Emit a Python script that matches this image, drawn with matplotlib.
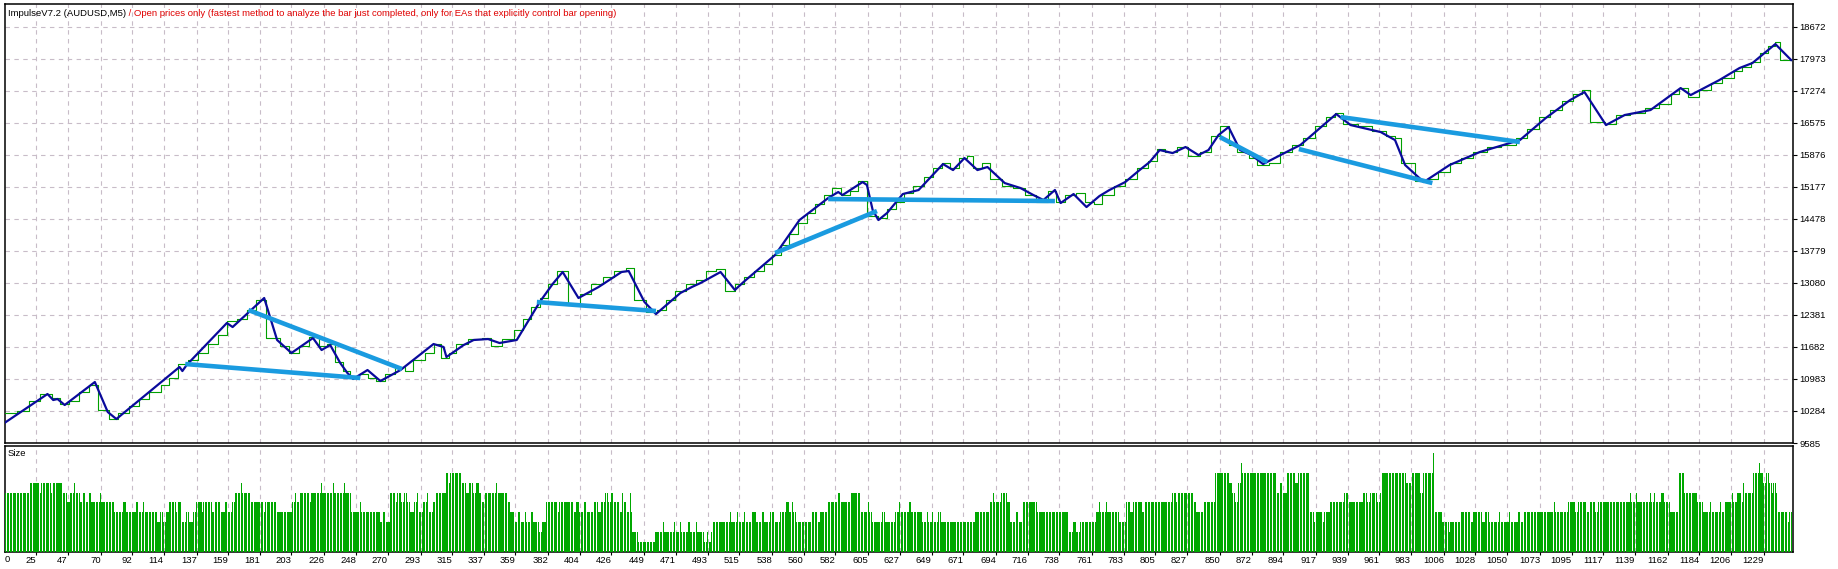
import matplotlib
matplotlib.use("Agg")
import matplotlib.pyplot as plt
import numpy as np

plt.rcParams["font.family"] = ["Liberation Sans", "DejaVu Sans"]

TITLE_EA = "ImpulseV7.2 (AUDUSD,M5)"
TITLE_MODE = " / Open prices only (fastest method to analyze the bar just completed, only for EAs that explicitly control bar opening)"

# balance curve (trade number, balance)
BAL_T = [3, 33, 37, 40, 45, 66, 75, 81, 125, 127, 130, 158, 162, 184, 193, 203, 218, 224,
         230, 237, 242, 246, 256, 265, 279, 302, 309, 311, 323, 330, 340, 348, 360, 376,
         385, 392, 403, 417, 433, 438, 449, 457, 474, 482, 488, 502, 512, 518, 540, 557,
         577, 584, 587, 601, 604, 608, 612, 618, 629, 640, 657, 664, 672, 681, 688, 700,
         711, 720, 727, 735, 739, 748, 757, 766, 773, 784, 794, 801, 808, 817, 826, 835,
         842, 849, 856, 864, 872, 880, 899, 906, 931, 941, 962, 972, 979, 992, 1010, 1031,
         1059, 1077, 1094, 1104, 1119, 1132, 1150, 1171, 1178, 1198, 1212, 1221, 1237, 1248]
BAL_V = [10022, 10655, 10524, 10546, 10415, 10917, 10262, 10109, 11245, 11157, 11289, 12206,
         12118, 12752, 11835, 11551, 11878, 11616, 11725, 11332, 11114, 10983, 11179, 10939,
         11179, 11747, 11682, 11463, 11725, 11835, 11856, 11769, 11835, 12664, 13058, 13320,
         12752, 12992, 13320, 13342, 12664, 12402, 12861, 12992, 13079, 13320, 12927, 13101,
         13691, 14455, 14936, 15067, 15001, 15285, 15220, 14674, 14455, 14608, 15023, 15111,
         15678, 15547, 15809, 15547, 15613, 15263, 15154, 15001, 14892, 15111, 14827, 15023,
         14739, 14979, 15111, 15285, 15547, 15722, 15984, 15918, 16050, 15875, 15984, 16312,
         16486, 15984, 15875, 15678, 15984, 16093, 16771, 16530, 16377, 16202, 15657, 15285,
         15657, 15940, 16202, 16683, 17076, 17251, 16530, 16749, 16858, 17338, 17185, 17513,
         17775, 17884, 18299, 17950]

# equity curve, drawn as steps
EQ_T = [3, 12, 20, 28, 36, 42, 48, 55, 62, 68, 76, 82, 90, 97, 104, 112, 118, 124, 131, 138,
        145, 152, 158, 165, 172, 178, 185, 195, 201, 208, 215, 222, 228, 233, 239, 244, 250,
        256, 262, 268, 275, 282, 288, 296, 302, 307, 313, 318, 326, 336, 342, 350, 358, 364,
        370, 376, 382, 388, 396, 404, 412, 420, 428, 436, 442, 450, 458, 464, 470, 478, 485,
        492, 499, 505, 512, 518, 525, 532, 538, 544, 550, 556, 562, 568, 574, 580, 586, 592,
        598, 604, 612, 618, 624, 630, 636, 644, 650, 656, 662, 668, 674, 678, 684, 690, 698,
        706, 714, 722, 730, 736, 742, 750, 756, 762, 768, 776, 784, 792, 800, 806, 812, 820,
        828, 836, 844, 850, 856, 862, 870, 876, 884, 892, 900, 908, 916, 924, 930, 936, 946,
        956, 966, 972, 976, 986, 994, 1002, 1010, 1018, 1026, 1036, 1046, 1056, 1064, 1072,
        1080, 1088, 1096, 1102, 1108, 1118, 1126, 1136, 1146, 1156, 1164, 1170, 1176, 1184,
        1192, 1200, 1208, 1214, 1220, 1226, 1232, 1237, 1240, 1248]
EQ_V = [10240, 10290, 10500, 10650, 10560, 10440, 10500, 10700, 10850, 10300, 10100, 10250,
        10400, 10550, 10700, 10850, 11000, 11300, 11400, 11550, 11750, 11950, 12250, 12300,
        12500, 12700, 11880, 11700, 11550, 11700, 11900, 11700, 11750, 11350, 11150, 11000,
        11100, 11000, 10950, 11100, 11250, 11150, 11400, 11550, 11750, 11450, 11550, 11750,
        11850, 11880, 11700, 11850, 12050, 12300, 12550, 12750, 13050, 13350, 12600, 12850,
        13050, 13200, 13350, 13400, 12700, 12450, 12500, 12700, 12900, 13050, 13150, 13350,
        13380, 12900, 13050, 13200, 13350, 13500, 13700, 13900, 14150, 14400, 14600, 14800,
        15000, 15150, 15000, 15100, 15300, 14550, 14500, 14700, 14850, 15050, 15200, 15400,
        15600, 15700, 15600, 15800, 15850, 15600, 15700, 15350, 15200, 15150, 15000, 14850,
        15100, 14850, 15000, 15050, 14850, 14800, 15000, 15200, 15350, 15600, 15750, 16000,
        15950, 16050, 15850, 15950, 16300, 16500, 16100, 15950, 15800, 15650, 15700, 15950,
        16100, 16250, 16500, 16700, 16800, 16550, 16500, 16400, 16300, 16250, 15700, 15300,
        15350, 15500, 15700, 15800, 15950, 16050, 16100, 16250, 16450, 16700, 16850, 17050,
        17200, 17300, 16600, 16550, 16750, 16800, 16900, 17000, 17200, 17350, 17150, 17300,
        17450, 17550, 17700, 17800, 17900, 18100, 18250, 18350, 17950, 17960]

# trend lines drawn on the chart: (trade0, value0, trade1, value1)
TREND_LINES = [
    (129, 11310, 251, 11005),
    (173, 12490, 280, 11201),
    (374, 12664, 457, 12468),
    (540, 13735, 611, 14652),
    (577, 14914, 735, 14870),
    (850, 16268, 883, 15722),
    (905, 16006, 998, 15263),
    (934, 16705, 1059, 16159),
]

# lot size per trade, as runs: (first trade of run, size)
SIZE_RUNS = [
    (0, 6), (3, 5), (4, 6), (21, 7), (28, 6), (29, 7), (36, 6), (37, 7), (44, 6), (47, 5),
    (49, 6), (52, 7), (53, 6), (56, 5), (58, 6), (60, 5), (62, 6), (64, 5), (70, 6), (71, 5),
    (80, 4), (86, 5), (88, 4), (95, 5), (97, 4), (100, 5), (101, 4), (110, 3), (112, 4),
    (114, 3), (116, 4), (118, 5), (123, 4), (124, 5), (127, 3), (130, 4), (132, 3), (135, 4),
    (137, 5), (141, 4), (142, 5), (148, 4), (150, 5), (154, 4), (157, 5), (159, 4), (162, 5),
    (164, 6), (168, 7), (169, 6), (175, 5), (184, 4), (185, 5), (193, 4), (204, 5), (206, 6),
    (207, 5), (209, 6), (216, 5), (217, 6), (224, 7), (225, 6), (232, 7), (233, 6), (240, 7),
    (241, 6), (245, 4), (251, 5), (252, 4), (265, 3), (267, 4), (269, 3), (272, 6), (276, 5),
    (277, 6), (280, 5), (282, 6), (284, 5), (286, 4), (289, 5), (291, 6), (292, 4), (295, 5),
    (298, 6), (299, 4), (302, 5), (304, 6), (311, 8), (313, 7), (314, 8), (322, 7), (325, 6),
    (327, 7), (330, 6), (332, 7), (334, 6), (336, 5), (338, 6), (346, 7), (347, 6), (354, 5),
    (356, 4), (359, 3), (361, 4), (363, 3), (366, 4), (367, 3), (370, 4), (372, 3), (376, 2),
    (378, 3), (381, 5), (389, 4), (390, 5), (400, 4), (402, 5), (404, 4), (407, 5), (409, 4),
    (414, 5), (417, 4), (419, 5), (422, 6), (424, 5), (426, 6), (428, 5), (432, 4), (434, 6),
    (435, 5), (437, 4), (439, 6), (440, 4), (441, 2), (445, 1), (457, 2), (462, 3), (463, 2),
    (470, 3), (471, 2), (474, 3), (475, 2), (480, 3), (481, 2), (485, 3), (486, 2), (491, 1),
    (493, 2), (494, 1), (496, 2), (497, 3), (509, 4), (510, 3), (514, 4), (515, 3), (519, 4),
    (520, 3), (524, 4), (527, 3), (531, 4), (533, 3), (537, 4), (540, 3), (544, 4), (548, 5),
    (550, 4), (552, 5), (553, 4), (555, 3), (566, 4), (570, 3), (572, 4), (577, 5), (584, 6),
    (586, 5), (593, 6), (600, 4), (605, 5), (606, 4), (608, 3), (615, 4), (617, 3), (624, 4),
    (627, 5), (628, 4), (634, 5), (635, 4), (643, 3), (646, 4), (647, 3), (650, 4), (651, 3),
    (654, 4), (656, 3), (680, 4), (690, 5), (692, 6), (693, 5), (698, 6), (702, 5), (704, 3),
    (708, 4), (710, 3), (713, 5), (723, 4), (745, 2), (748, 3), (750, 2), (753, 3), (764, 4),
    (766, 5), (767, 4), (771, 5), (772, 4), (780, 3), (785, 5), (788, 4), (790, 5), (796, 4),
    (798, 5), (817, 6), (820, 5), (821, 6), (832, 5), (834, 4), (839, 5), (847, 8), (857, 7),
    (859, 6), (861, 5), (863, 7), (865, 9), (866, 8), (890, 6), (892, 7), (894, 6), (897, 8),
    (903, 7), (905, 8), (913, 4), (916, 3), (917, 4), (922, 3), (923, 4), (927, 5), (937, 6),
    (940, 5), (950, 6), (953, 5), (955, 6), (960, 5), (962, 6), (963, 8), (980, 7), (984, 8),
    (990, 6), (992, 8), (999, 10), (1000, 4), (1005, 3), (1010, 2), (1011, 3), (1018, 4),
    (1025, 3), (1027, 4), (1033, 3), (1035, 4), (1038, 3), (1045, 4), (1046, 3), (1052, 4),
    (1053, 3), (1058, 4), (1060, 3), (1062, 4), (1083, 5), (1084, 4), (1093, 5), (1098, 4),
    (1100, 5), (1106, 4), (1108, 5), (1112, 4), (1114, 5), (1136, 6), (1137, 5), (1140, 6),
    (1141, 5), (1150, 6), (1151, 5), (1153, 6), (1154, 5), (1158, 6), (1160, 5), (1164, 4),
    (1170, 8), (1174, 6), (1183, 5), (1187, 4), (1192, 5), (1193, 4), (1199, 5), (1200, 4),
    (1202, 5), (1207, 6), (1208, 5), (1211, 6), (1214, 5), (1215, 7), (1216, 6), (1222, 8),
    (1226, 9), (1227, 8), (1229, 7), (1231, 8), (1233, 7), (1235, 6), (1236, 7), (1238, 6),
    (1239, 4), (1246, 3), (1247, 4),
]
N_TRADES = 1249

Y_TICKS = [9585, 10284, 10983, 11682, 12381, 13080, 13779, 14478, 15177, 15876, 16575,
           17274, 17973, 18672]
X_TICKS = [25, 47, 70, 92, 114, 137, 159, 181, 203, 226, 248, 270, 293, 315, 337, 359, 382,
           404, 426, 449, 471, 493, 515, 538, 560, 582, 605, 627, 649, 671, 694, 716, 738,
           761, 783, 805, 827, 850, 872, 894, 917, 939, 961, 983, 1006, 1028, 1050, 1073,
           1095, 1117, 1139, 1162, 1184, 1206, 1229]

GRID = "#c8bcc8"
FS = 6.8

W, H = 1838, 569
fig = plt.figure(figsize=(W / 100, H / 100), dpi=100)
left, right = 4.5 / W, 1793 / W
ax = fig.add_axes([left, 1 - 443 / H, right - left, (443 - 4) / H])
axs = fig.add_axes([left, 1 - 552 / H, right - left, (552 - 446) / H])

xlim = (3.05, 1249.3)
for a in (ax, axs):
    a.set_xlim(*xlim)
    a.set_xticks(X_TICKS)
    a.grid(axis="x", color=GRID, linestyle=(0, (4, 4)), linewidth=0.8)
    a.set_axisbelow(True)
    for s in a.spines.values():
        s.set_linewidth(1.1)
        s.set_color("black")

# main pane
ax.set_ylim(9585, 19174)
ax.set_yticks(Y_TICKS)
ax.grid(axis="y", color=GRID, linestyle=(0, (4, 4)), linewidth=0.8)
ax.yaxis.tick_right()
ax.tick_params(axis="y", length=3, width=0.8, labelsize=FS, pad=1.5)
ax.tick_params(axis="x", length=0, labelbottom=False)

ax.plot(EQ_T, EQ_V, color="#00a000", lw=0.8, drawstyle="steps-post", zorder=3)
ax.plot(BAL_T, BAL_V, color="#0a0a9c", lw=1.6, zorder=4)
for t0, v0, t1, v1 in TREND_LINES:
    ax.plot([t0, t1], [v0, v1], color="#1a9be0", lw=3.3, solid_capstyle="butt", zorder=5)

title = ax.text(8 / W, 1 - 13 / H, TITLE_EA, transform=fig.transFigure, fontsize=FS,
                va="center", ha="left", color="black")
ax.annotate(TITLE_MODE, xy=(1, 0), xycoords=title, va="bottom", ha="left",
            fontsize=FS, color="#e00000")

# size pane
starts = np.array([r[0] for r in SIZE_RUNS])
levels = np.array([r[1] for r in SIZE_RUNS])
trades = np.arange(N_TRADES)
sizes = levels[np.searchsorted(starts, trades, side="right") - 1]
axs.bar(trades, sizes, width=0.75, color="#00a800", linewidth=0, zorder=3)
axs.set_ylim(0, 10.7)
axs.set_yticks([])
axs.set_xticklabels([str(v) for v in X_TICKS])
axs.tick_params(axis="x", length=2, width=0.8, labelsize=FS, pad=1)
for lbl in axs.get_xticklabels():
    lbl.set_ha("right")
fig.text(7 / W, 1 - 560 / H, "0", fontsize=FS, ha="center", va="center")
fig.text(8 / W, 1 - 453 / H, "Size", fontsize=FS, ha="left", va="center")

fig.savefig("out.png", dpi=100)
